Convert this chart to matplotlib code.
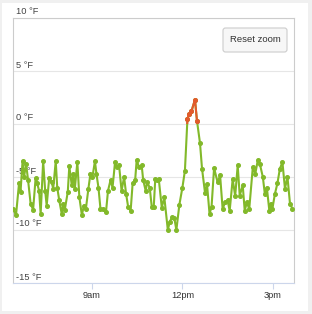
import matplotlib
matplotlib.use("Agg")
import matplotlib.pyplot as plt
from matplotlib.patches import Rectangle, FancyBboxPatch
import numpy as np

plt.rcParams['font.family'] = ['Liberation Sans', 'DejaVu Sans']

# ---- data (minutes since midnight, temperature in °F) ----
minutes = [
    383, 389, 395, 398, 402, 405, 409, 413, 418, 423,
    428, 431, 435, 438, 443, 447, 450, 455, 460, 463,
    468, 471, 475, 480, 483, 486, 492, 495, 500, 503,
    506, 511, 515, 520, 524, 528, 533, 537, 541, 546,
    549, 553, 557, 562, 568, 572, 577, 581, 586, 590,
    594, 599, 604, 608, 612, 617, 621, 626, 629, 634,
    639, 642, 647, 650, 655, 659, 663, 666,
    669, 673, 679, 684, 691, 695, 700, 704, 708, 714,
    720, 725, 730, 733, 738, 745, 749, 755, 759, 765,
    769, 774, 778, 783, 790, 795, 800, 805, 810, 814,
    820, 825, 830, 834, 840, 844, 848, 853, 860, 865,
    870, 874, 880, 884, 888, 893, 896, 899, 904, 909,
    914, 919, 924, 929, 934, 939]
temps = [
    -8.0, -8.6, -5.6, -6.4, -3.5, -5.0, -3.75, -5.3, -7.5, -8.1,
    -5.1, -5.6, -6.3, -8.5, -3.5, -6.3, -7.7, -5.1, -5.5, -6.1,
    -3.5, -6.0, -7.2, -8.5, -7.5, -8.1, -6.4, -4.0, -5.8, -4.7,
    -6.1, -3.6, -6.9, -8.6, -7.7, -8.0, -6.1, -4.7, -5.0, -3.5,
    -4.7, -6.0, -8.0, -8.0, -8.3, -6.3, -5.3, -6.0, -3.6, -4.1,
    -3.9, -6.3, -5.0, -6.6, -7.8, -8.2, -5.6, -5.3, -3.4, -4.1,
    -3.9, -5.3, -6.3, -5.5, -6.0, -7.8, -7.8, -5.2,
    -5.3, -5.2, -7.9, -6.9, -10.0, -9.2, -8.75, -8.9, -10.0, -7.6,
    -6.0, -4.4, 0.45, 0.9, 1.2, 2.3, 0.3, -1.8, -4.2, -6.5,
    -5.7, -8.5, -7.8, -4.15, -5.5, -4.85, -8.0, -7.4, -7.2, -8.2,
    -5.2, -6.8, -3.9, -6.75, -5.8, -8.2, -7.4, -8.0, -4.1, -4.7,
    -3.4, -3.75, -5.0, -6.6, -6.0, -8.2, -7.5, -8.0, -6.6, -5.6,
    -4.2, -3.6, -6.1, -5.0, -7.5, -8.0]
x_range_min = [383, 942]
y_ticks = [-15, -10, -5, 0, 5, 10]
x_ticks_hours = [9, 12, 15]
x_tick_labels = ['9am', '12pm', '3pm']
threshold = 0

W, H = 312, 314
fig = plt.figure(figsize=(W / 100, H / 100), dpi=100, facecolor='#f0f0f0')

# white card
fig.patches.append(Rectangle((2 / W, 1 - 311 / H), 306 / W, 308 / H,
                             transform=fig.transFigure, facecolor='white',
                             edgecolor='none', zorder=-10))

L, T, R, B = 13, 18, 294, 283
ax = fig.add_axes([L / W, 1 - B / H, (R - L) / W, (B - T) / H])
ax.set_zorder(1)
ax.set_facecolor('white')

hours = np.array(minutes) / 60.0
vals = np.array(temps)

green = '#82b92a'
red = '#e35a2c'

ln_g, = ax.plot(hours, vals, color=green, lw=1.5, marker='o', ms=2.6,
                mec=green, mfc=green, zorder=3, solid_joinstyle='round')
ln_r, = ax.plot(hours, vals, color=red, lw=1.5, marker='o', ms=2.6,
                mec=red, mfc=red, zorder=4, solid_joinstyle='round')
clip_up = Rectangle((0, threshold), 24, 100, transform=ax.transData)
ln_r.set_clip_path(clip_up)

ax.set_xlim(x_range_min[0] / 60, x_range_min[1] / 60)
ax.set_ylim(min(y_ticks), max(y_ticks))

# grid
for v in y_ticks:
    ax.axhline(v, color='#e6e6e6', lw=0.8, zorder=1)

ax.set_yticks([])
ax.set_xticks(x_ticks_hours)
ax.set_xticklabels(x_tick_labels, fontsize=6.7, color='#333333')
ax.tick_params(axis='x', length=4, width=0.8, color='#ccd6eb', pad=2)

for s in ['left', 'right', 'top']:
    ax.spines[s].set_color('#cccccc')
    ax.spines[s].set_linewidth(0.8)
ax.spines['bottom'].set_color('#ccd6eb')
ax.spines['bottom'].set_linewidth(0.8)

# y labels inside plot, above gridlines
for v in y_ticks:
    ax.annotate(f"{v} \u00b0F", xy=(0, v), xycoords=('axes fraction', 'data'),
                xytext=(3, 1.5), textcoords='offset pixels',
                ha='left', va='bottom', fontsize=6.7, color='#444444',
                zorder=2, annotation_clip=False)

# Reset zoom button
bx0, by0, bx1, by1 = 223, 28, 287, 52
fig.patches.append(FancyBboxPatch((bx0 / W, 1 - by1 / H), (bx1 - bx0) / W,
                                  (by1 - by0) / H,
                                  boxstyle='round,pad=0,rounding_size=0.008',
                                  transform=fig.transFigure,
                                  facecolor='#f7f7f7', edgecolor='#cccccc',
                                  lw=0.8, zorder=5))
fig.text((bx0 + bx1) / 2 / W, 1 - (by0 + by1) / 2 / H, 'Reset zoom',
         ha='center', va='center', fontsize=6.8, color='#333333', zorder=6)

fig.savefig('out.png', dpi=100, facecolor=fig.get_facecolor())
